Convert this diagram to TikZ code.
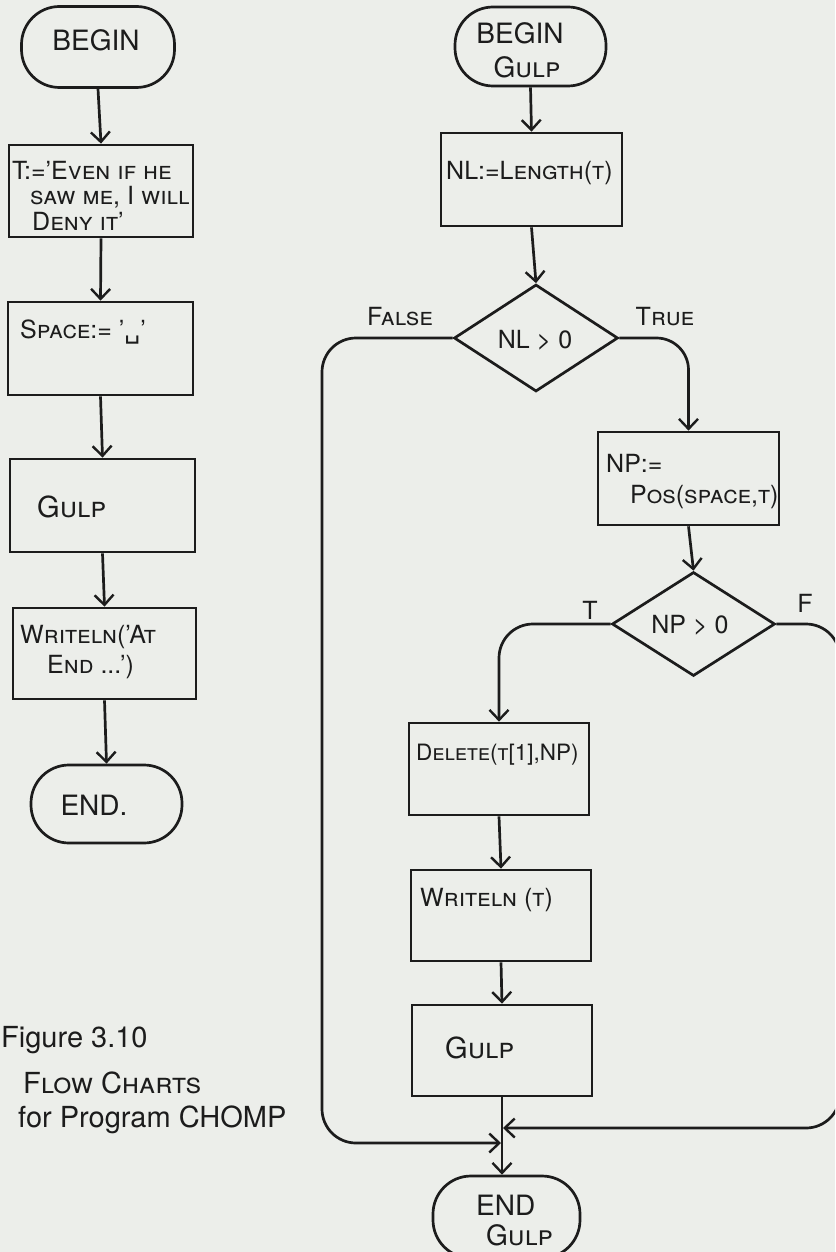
\documentclass[tikz,border=0pt]{standalone}
\usepackage{fontspec}
\setmainfont{TeX Gyre Heros}
\newfontfamily\symfont{DejaVu Sans}
\usetikzlibrary{arrows.meta,shapes.geometric,calc}
\definecolor{paper}{HTML}{ECEEEA}
\definecolor{ink}{HTML}{1C1C1C}

\begin{document}
\begin{tikzpicture}[x=1pt,y=-1pt,
  line/.style={draw=ink,line width=2.7pt},
  flow/.style={line,-{Straight Barb[length=10pt,width=19pt,line width=2.4pt]}},
  terminal/.style={line,rectangle,rounded corners=38pt,inner sep=0pt},
  procbox/.style={line,rectangle,inner sep=0pt},
  decision/.style={line,diamond,aspect=1.55,inner sep=0pt},
  boxtext/.style={text=ink,inner sep=0pt,font=\fontsize{25}{30}\selectfont},
  smalltext/.style={boxtext,font=\fontsize{22.5}{28}\selectfont},
  bigtext/.style={boxtext,font=\fontsize{29}{34}\selectfont},
  termtext/.style={text=ink,inner sep=0pt,font=\fontsize{28}{34}\selectfont},
  labeltext/.style={text=ink,inner sep=0pt,font=\fontsize{25}{30}\selectfont},
  captext/.style={text=ink,inner sep=0pt,anchor=west,font=\fontsize{29}{34}\selectfont}]

\useasboundingbox (0,0) rectangle (835,1252);
\clip (0,0) rectangle (835,1252);
\fill[paper] (0,0) rectangle (835,1252);

% ---------- main program ----------
\node[terminal,minimum width=153pt,minimum height=81pt] (begin) at (98,47) {};
\node[termtext] (begintxt) at (96,40) {BEGIN};

\node[procbox,minimum width=184pt,minimum height=92pt] (tbox) at (101,191) {};
\node[boxtext,anchor=west] (tline1) at (12,170) {\textsc{T:='Even if he}};
\node[boxtext,anchor=west] (tline2) at (30,197) {\textsc{saw me, I will}};
\node[boxtext,anchor=west] (tline3) at (32,221) {\textsc{Deny it'}};

\node[procbox,minimum width=185pt,minimum height=93pt] (spacebox) at (100.5,348.5) {};
\node[boxtext,anchor=west] (spacetxt) at (20,332) {\textsc{Space:= '}{\symfont ␣}'};

\node[procbox,minimum width=185pt,minimum height=93pt] (gulpa) at (102.5,505.5) {};
\node[bigtext,anchor=west] (gulpatxt) at (37,507) {\textsc{Gulp}};

\node[procbox,minimum width=183pt,minimum height=91pt] (wla) at (104.5,653.5) {};
\node[boxtext,anchor=west] (wla1) at (20,637) {\textsc{Writeln('At}};
\node[boxtext,anchor=west] (wla2) at (47,667) {\textsc{End ...')}};

\node[terminal,minimum width=151pt,minimum height=78pt] (enda) at (106.5,804) {};
\node[termtext] (endatxt) at (94,805) {END.};

\draw[flow] (begin.south) -- (tbox.north);
\draw[flow] (tbox.south) -- (spacebox.north);
\draw[flow] (spacebox.south) -- (gulpa.north);
\draw[flow] (gulpa.south) -- (wla.north);
\draw[flow] (wla.south) -- (enda.north);

% ---------- caption ----------
\node[captext] (cap1) at (1,1040) {Figure 3.10};
\node[captext] (cap2) at (23,1083) {\textsc{Flow Charts}};
\node[captext] (cap3) at (18,1120) {for Program CHOMP};

% ---------- procedure Gulp ----------
\node[terminal,minimum width=151pt,minimum height=79pt] (beginb) at (530.5,46.5) {};
\node[termtext] (beginb1) at (520,33) {BEGIN};
\node[termtext] (beginb2) at (527,67) {\textsc{Gulp}};

\node[procbox,minimum width=181pt,minimum height=93pt] (nl) at (531.5,179.5) {};
\node[boxtext,anchor=west] (nltxt) at (446,173) {NL:=\textsc{Length(t)}};

\node[decision,minimum width=164pt,minimum height=107pt] (dnl) at (536,338) {};
\node[boxtext] (dnltxt) at (535,340) {NL > 0};
\node[labeltext] (falselbl) at (400,317) {\textsc{False}};
\node[labeltext] (truelbl) at (665,317) {\textsc{True}};

\node[procbox,minimum width=181pt,minimum height=93pt] (np) at (688.5,478.5) {};
\node[boxtext,anchor=west] (np1) at (606,463) {NP:=};
\node[boxtext,anchor=west] (np2) at (630,497) {\textsc{Pos(space,t)}};

\node[decision,minimum width=163pt,minimum height=104pt] (dnp) at (693.5,624) {};
\node[boxtext] (dnptxt) at (690,625) {NP > 0};
\node[labeltext] (tlbl) at (590,610) {T};
\node[labeltext] (flbl) at (805,603) {F};

\node[procbox,minimum width=180pt,minimum height=92pt] (del) at (499,769) {};
\node[smalltext,anchor=west] (deltxt) at (416,755) {\textsc{Delete(t[1],}NP)};

\node[procbox,minimum width=180pt,minimum height=91pt] (wlb) at (501,915.5) {};
\node[boxtext,anchor=west] (wlbtxt) at (420,900) {\textsc{Writeln (t)}};

\node[procbox,minimum width=180pt,minimum height=91pt] (gulpb) at (502,1050.5) {};
\node[bigtext,anchor=west] (gulpbtxt) at (445,1048) {\textsc{Gulp}};

\node[terminal,minimum width=147pt,minimum height=82pt] (endb) at (506.5,1217) {};
\node[termtext,anchor=west] (endb1) at (476,1205) {END};
\node[termtext,anchor=west] (endb2) at (486,1235) {\textsc{Gulp}};

% free ends where the two branches rejoin the main line
\coordinate (joinR) at (503,1128);
\coordinate (joinL) at (501,1143);

\draw[flow] (beginb.south) -- (nl.north);
\draw[flow] (nl.south) -- (dnl.north);
\draw[flow,rounded corners=32pt] (dnl.east) -| (np.north);
\draw[flow,rounded corners=34pt] (dnl.west) -| (322,1143) -- (joinL);
\draw[flow] (np.south) -- (dnp.north);
\draw[flow,rounded corners=34pt] (dnp.west) -| (del.north);
\draw[flow,rounded corners=34pt] (dnp.east) -| (840,1128) -- (joinR);
\draw[flow] (del.south) -- (wlb.north);
\draw[flow] (wlb.south) -- (gulpb.north);
\draw[flow] (gulpb.south) -- (gulpb.south |- endb.north);

\end{tikzpicture}
\end{document}
